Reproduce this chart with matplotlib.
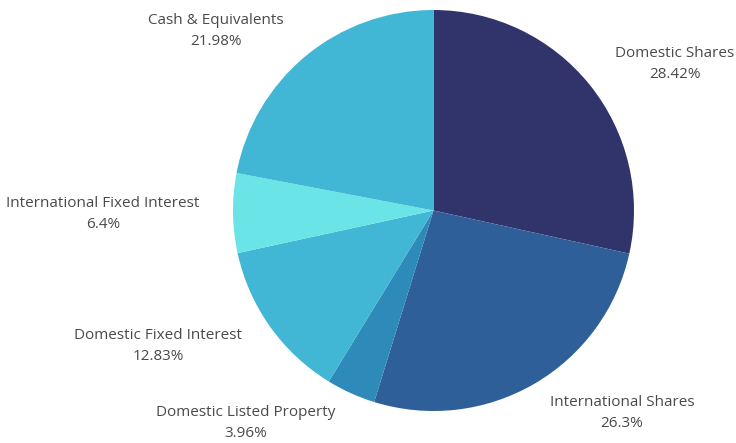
import matplotlib
matplotlib.use("Agg")
import matplotlib.pyplot as plt

# Daten
labels = ["Domestic Shares", "International Shares", "Domestic Listed Property",
          "Domestic Fixed Interest", "International Fixed Interest", "Cash & Equivalents"]
values = [28.42, 26.3, 3.96, 12.83, 6.4, 21.98]
colors = ["#31346b", "#2e5f98", "#2d8ab9", "#42b7d5", "#6ae4e6", "#42b7d5"]

# Label-Positionen (Pixel, oben links = 0,0)
label_pos = [(675, 64), (622, 413), (246, 423), (158, 346), (103, 214), (216, 31)]

W, H = 736, 443
fig = plt.figure(figsize=(W / 100, H / 100), dpi=100)
ax = fig.add_axes([0, 0, 1, 1])

ax.pie(values, colors=colors, startangle=90, counterclock=False,
       center=(433.5, H - 210.5), radius=200.5, frame=True,
       wedgeprops=dict(linewidth=0))
ax.set_xlim(0, W)
ax.set_ylim(0, H)
ax.set_aspect("equal")
ax.axis("off")

for name, val, (x, y) in zip(labels, values, label_pos):
    ax.text(x, H - y, f"{name}\n{val:g}%", ha="center", va="center",
            fontsize=11, family="Open Sans", color="#4a4a4a", linespacing=1.5)

fig.savefig("out.png", dpi=100)
